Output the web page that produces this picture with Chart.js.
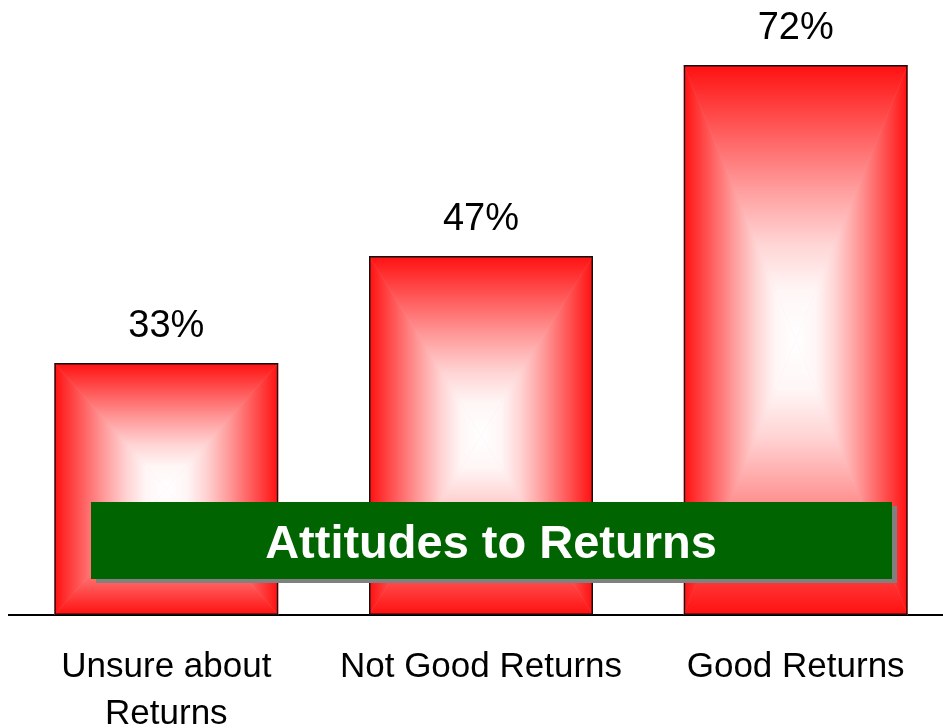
<!DOCTYPE html>
<html><head><meta charset="utf-8">
<script src="https://cdn.jsdelivr.net/npm/chart.js@4/dist/chart.umd.min.js"></script>
<style>
html,body{margin:0;padding:0;background:#fff;overflow:hidden;width:943px;height:728px}
#wrap{position:relative;width:953px;height:728px}
</style>
</head><body><div id="wrap"><canvas id="c" width="953" height="728"></canvas></div>
<script>
const categories = [['Unsure about', 'Returns'], 'Not Good Returns', 'Good Returns'];
const values = [33, 47, 72];
const valueLabels = ['33%', '47%', '72%'];
const chartTitle = 'Attitudes to Returns';

const FONT = '"Liberation Sans", Arial, Helvetica, sans-serif';

const rectGradient = {
  id: 'rectGradient',
  beforeDatasetsDraw(chart) {
    const ctx = chart.ctx;
    chart.getDatasetMeta(0).data.forEach(bar => {
      const {x, y, base, width} = bar.getProps(['x', 'y', 'base', 'width'], true);
      const x0 = x - width / 2, x1 = x + width / 2;
      const y0 = Math.min(y, base), y1 = Math.max(y, base);
      const cx = (x0 + x1) / 2, cy = (y0 + y1) / 2;
      const tri = (pts, gx0, gy0, gx1, gy1) => {
        const g = ctx.createLinearGradient(gx0, gy0, gx1, gy1);
        g.addColorStop(0, '#ff1010');
        g.addColorStop(0.22, '#ff5555');
        g.addColorStop(0.45, '#ff9c9c');
        g.addColorStop(0.65, '#ffd4d4');
        g.addColorStop(0.82, '#fff6f6');
        g.addColorStop(1, '#ffffff');
        ctx.beginPath();
        ctx.moveTo(pts[0][0], pts[0][1]);
        for (let i = 1; i < pts.length; i++) ctx.lineTo(pts[i][0], pts[i][1]);
        ctx.closePath();
        ctx.fillStyle = g;
        ctx.strokeStyle = g;
        ctx.lineWidth = 0.5;
        ctx.fill();
        ctx.stroke();
      };
      ctx.save();
      ctx.beginPath();
      ctx.rect(x0, y0, x1 - x0, y1 - y0);
      ctx.clip();
      ctx.fillStyle = '#ffb0b0';
      ctx.fillRect(x0, y0, x1 - x0, y1 - y0);
      tri([[x0, y0], [x1, y0], [cx, cy]], cx, y0, cx, cy);
      tri([[x0, y1], [x1, y1], [cx, cy]], cx, y1, cx, cy);
      tri([[x0, y0], [x0, y1], [cx, cy]], x0, cy, cx, cy);
      tri([[x1, y0], [x1, y1], [cx, cy]], x1, cy, cx, cy);
      ctx.restore();
    });
  },
  afterDatasetsDraw(chart) {
    const ctx = chart.ctx;
    ctx.save();
    ctx.fillStyle = '#000';
    ctx.font = '38px ' + FONT;
    ctx.textAlign = 'center';
    ctx.textBaseline = 'alphabetic';
    chart.getDatasetMeta(0).data.forEach((bar, i) => {
      const {x, y} = bar.getProps(['x', 'y'], true);
      ctx.fillText(valueLabels[i], x, y - 26);
    });
    ctx.restore();
  },
  afterDraw(chart) {
    const ctx = chart.ctx;
    ctx.save();
    const bx = 91, by = 502, bw = 801, bh = 77;
    ctx.fillStyle = '#808080';
    ctx.fillRect(bx + 5, by + 4, bw, bh);
    ctx.fillStyle = '#006400';
    ctx.fillRect(bx, by, bw, bh);
    ctx.font = 'bold 47px ' + FONT;
    ctx.fillStyle = '#ffffff';
    ctx.textAlign = 'center';
    ctx.textBaseline = 'alphabetic';
    ctx.fillText(chartTitle, 491, 558);
    ctx.restore();
  }
};

new Chart(document.getElementById('c'), {
  type: 'bar',
  data: {
    labels: categories,
    datasets: [{
      data: values,
      backgroundColor: 'rgba(0,0,0,0)',
      borderColor: '#111',
      borderWidth: 1.5,
      borderSkipped: false,
      barPercentage: 0.712,
      categoryPercentage: 1
    }]
  },
  options: {
    responsive: false,
    animation: false,
    devicePixelRatio: 1,
    layout: { padding: { left: 9, right: 0, top: 0, bottom: 0 } },
    plugins: { legend: { display: false }, tooltip: { enabled: false }, title: { display: false } },
    scales: {
      x: {
        grid: { display: false, drawTicks: false },
        border: { display: true, color: '#000', width: 2 },
        ticks: {
          color: '#000',
          font: { family: FONT, size: 35, lineHeight: 1.34 },
          padding: 29,
          maxRotation: 0,
          autoSkip: false
        },
        afterFit(scale) { scale.height = 113; }
      },
      y: {
        display: false,
        min: 0,
        max: 80.5
      }
    }
  },
  plugins: [rectGradient]
});
</script>
</body></html>
